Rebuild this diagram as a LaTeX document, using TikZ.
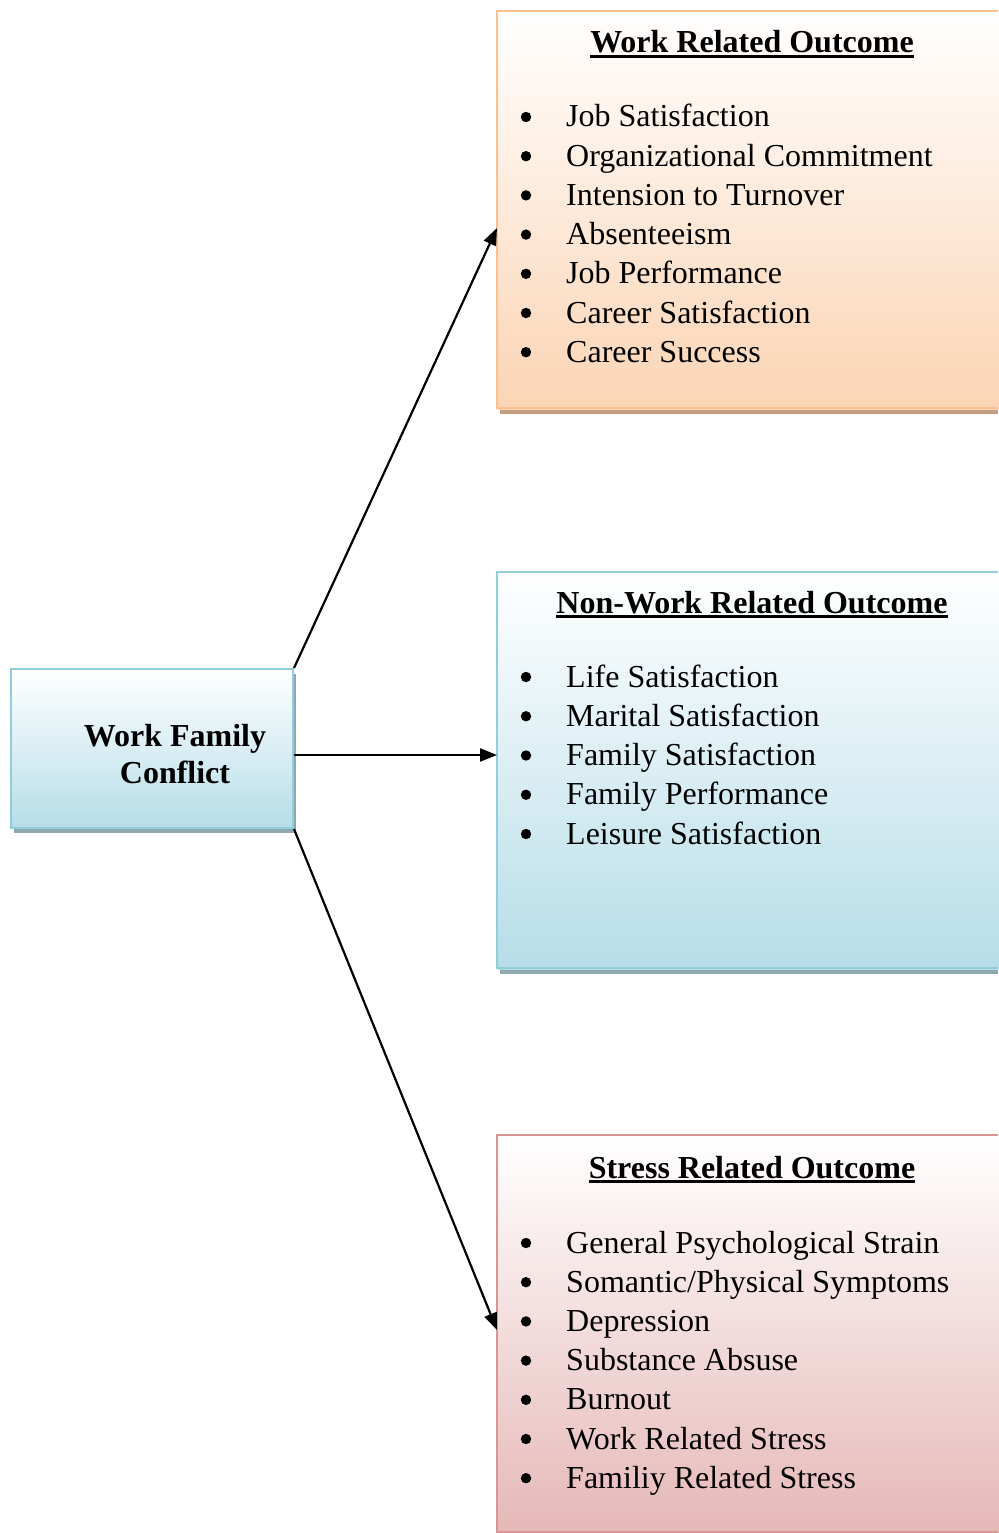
\documentclass[tikz,border=0pt]{standalone}
\usepackage{fontspec}
\setmainfont{Liberation Serif}
\usetikzlibrary{arrows.meta,shadows}

\definecolor{peach}{HTML}{FBD4B4}
\definecolor{peachline}{HTML}{FAC08F}
\definecolor{peachshadow}{HTML}{C59E82}
\definecolor{aqua}{HTML}{B6DDE8}
\definecolor{aqualine}{HTML}{92CDDC}
\definecolor{aquashadow}{HTML}{8EA8B0}
\definecolor{rose}{HTML}{E5B8B7}
\definecolor{roseline}{HTML}{D99594}
\definecolor{roseshadow}{HTML}{B08C8B}

% underlined heading with a heavy rule
\newcommand\headul[1]{\setbox0\hbox{#1}\rlap{\rule[-5pt]{\wd0}{3pt}}\box0}

\tikzset{
  panel/.style={draw=#1line, line width=2pt, top color=white, bottom color=#1,
    anchor=north west, inner sep=0pt,
    drop shadow={shadow xshift=3pt, shadow yshift=-5pt, fill=#1shadow, opacity=1}},
  openpanel/.style={line width=2pt, top color=white, bottom color=#1,
    anchor=north west, inner sep=0pt},
  shade/.style={fill=#1shadow},
  txt/.style={inner sep=0pt, font=\fontsize{32}{39}\selectfont},
  head/.style={txt, anchor=base, font=\fontsize{32}{39}\selectfont\bfseries},
  entry/.style={txt, anchor=base west},
  dot/.style={fill=black},
  link/.style={line width=2.2pt, -{Triangle[length=17pt,width=13pt]}}
}

\begin{document}
\begin{tikzpicture}[x=1pt,y=-1pt]
\useasboundingbox (0,0) rectangle (998,1533);

% outcome panels: open on the right, where they run to the page edge
\fill[shade=peach] (500,408) rectangle (998,414);
\node[openpanel=peach, minimum width=501pt, minimum height=397pt] (work) at (497,11) {};
\draw[peachline, line width=2pt] (998,11) -| (497,408) -- (998,408);

\fill[shade=aqua] (500,968) rectangle (998,974);
\node[openpanel=aqua, minimum width=501pt, minimum height=396pt] (nonwork) at (497,572) {};
\draw[aqualine, line width=2pt] (998,572) -| (497,968) -- (998,968);

\node[openpanel=rose, minimum width=501pt, minimum height=397pt] (stress) at (497,1135) {};
\draw[roseline, line width=2pt] (998,1135) -| (497,1532) -- (998,1532);

% source box
\node[panel=aqua, minimum width=282pt, minimum height=159pt] (wfc) at (10,668) {};
\node[head] (wfc1) at (175,746) {Work Family};
\node[head] (wfc2) at (175,783) {Conflict};

% headings
\node[head] (workh) at (752,53) {\headul{Work Related Outcome}};
\node[head] (nonworkh) at (752,613) {\headul{Non-Work Related Outcome}};
\node[head] (stressh) at (752,1178) {\headul{Stress Related Outcome}};

% bullet lists
\foreach \t [count=\i from 0] in {Job Satisfaction, Organizational Commitment,
    Intension to Turnover, Absenteeism, Job Performance, Career Satisfaction,
    Career Success}{
  \node[entry] (w\i) at (566,127+39.2*\i) {\t};
  \fill[dot] (526,117+39.2*\i) circle (5.2);
}

\foreach \t [count=\i from 0] in {Life Satisfaction, Marital Satisfaction,
    Family Satisfaction, Family Performance, Leisure Satisfaction}{
  \node[entry] (n\i) at (566,687+39.25*\i) {\t};
  \fill[dot] (526,677+39.25*\i) circle (5.2);
}

\foreach \t [count=\i from 0] in {General Psychological Strain,
    Somantic/Physical Symptoms, Depression, Substance Absuse, Burnout,
    Work Related Stress, Familiy Related Stress}{
  \node[entry] (s\i) at (566,1253+39.2*\i) {\t};
  \fill[dot] (526,1243+39.2*\i) circle (5.2);
}

% connectors
\coordinate (workin) at (work.west |- 0,228);
\coordinate (wfcout) at (wfc.east |- 0,755);
\coordinate (stressin) at (stress.west |- 0,1330);
\draw[link] (wfc.north east) -- (workin);
\draw[link] (wfcout) -- (nonwork.west |- wfcout);
\draw[link] (wfc.south east) -- (stressin);
\end{tikzpicture}
\end{document}
